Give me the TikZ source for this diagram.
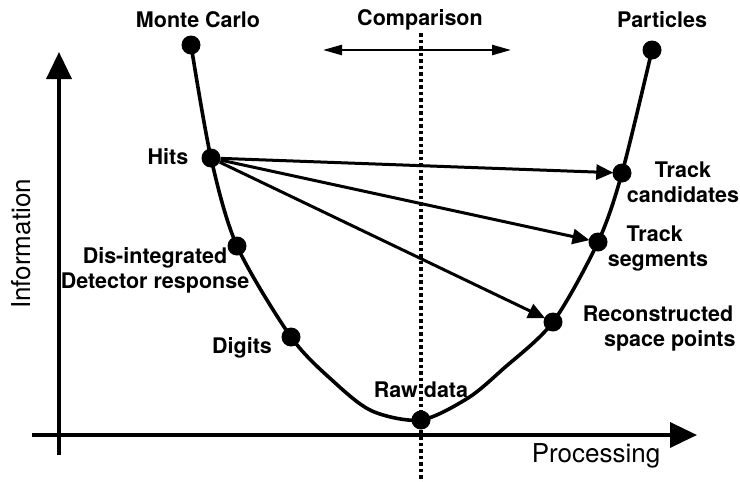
\documentclass[tikz,border=0pt]{standalone}
\usepackage{fontspec}
\setmainfont{TeX Gyre Heros}
\usetikzlibrary{arrows.meta}
\begin{document}
\begin{tikzpicture}[x=1pt,y=-1pt,
  dot/.style={circle,fill=black,inner sep=0pt,minimum size=19pt},
  lbl/.style={font=\fontsize{21.5}{25}\selectfont\bfseries,align=center,inner sep=0pt},
  axlbl/.style={font=\fontsize{26}{28}\selectfont,inner sep=0pt},
  axis/.style={line width=3.6pt,-{Triangle[length=27pt,width=25pt]}},
  flow/.style={line width=3pt,-{Triangle[length=17pt,width=15pt]},shorten >=-1pt},
  cmp/.style={line width=2.4pt,{Triangle[length=19pt,width=10pt]}-{Triangle[length=19pt,width=10pt]}},
  curve/.style={line width=3.6pt}]
\useasboundingbox (0,0) rectangle (740,482);
% axes
\coordinate (yb) at (59,455);
\coordinate (yt) at (59,52);
\coordinate (xl) at (32,435);
\coordinate (xr) at (697,435);
\draw[axis] (yb) -- (yt);
\draw[axis] (xl) -- (xr);
\node[axlbl,rotate=90] (info) at (21,244) {Information};
\node[axlbl] (proc) at (596,456) {Processing};
% dotted comparison line
\coordinate (dtop) at (421,33);
\coordinate (dbot) at (421,482);
\draw[line width=3.2pt,dash pattern=on 3.5pt off 3pt] (dtop) -- (dbot);
% comparison
\coordinate (cl) at (323,50);
\coordinate (cr) at (511,50);
\draw[cmp] (cl) -- (cr);
\node[lbl] (cmplbl) at (420,20) {Comparison};
% curve points
\coordinate (pmc) at (191,45);
\coordinate (phits) at (211,158);
\coordinate (pdis) at (237,246);
\coordinate (pdig) at (291,337);
\coordinate (praw) at (421,420);
\coordinate (prec) at (553,322);
\coordinate (pseg) at (598,242);
\coordinate (pcand) at (622,173);
\coordinate (ppart) at (652,50);
\coordinate (q1) at (333,381);
\coordinate (q2) at (372,411);
\coordinate (q3) at (468,398);
\coordinate (q4) at (503,369);
\draw[curve] plot[smooth,tension=0.5] coordinates {(pmc) (phits) (pdis) (pdig) (q1) (q2) (praw) (q3) (q4) (prec) (pseg) (pcand) (ppart)};
% dots
\node[dot] (mc) at (pmc) {};
\node[dot] (hits) at (phits) {};
\node[dot] (dis) at (pdis) {};
\node[dot] (dig) at (pdig) {};
\node[dot] (raw) at (praw) {};
\node[dot] (rec) at (prec) {};
\node[dot] (seg) at (pseg) {};
\node[dot] (cand) at (pcand) {};
\node[dot] (part) at (ppart) {};
% arrows
\draw[flow] (hits) -- (cand);
\draw[flow] (hits) -- (seg);
\draw[flow] (hits) -- (rec);
% labels
\node[lbl] (lmc) at (198,20) {Monte Carlo};
\node[lbl] (lpart) at (662,20) {Particles};
\node[lbl] (lhits) at (168,157) {Hits};
\node[lbl] (ldis) at (155,270) {Dis-integrated\\Detector response};
\node[lbl] (ldig) at (242,348) {Digits};
\node[lbl] (lraw) at (421,390) {Raw data};
\node[lbl] (lrec) at (658,329) {Reconstructed\\\hspace*{1.1em}space points};
\node[lbl] (lseg) at (658,249) {\hspace*{-0.3em}Track\\segments};
\node[lbl] (lcand) at (683,182) {Track\\candidates};
\end{tikzpicture}
\end{document}
